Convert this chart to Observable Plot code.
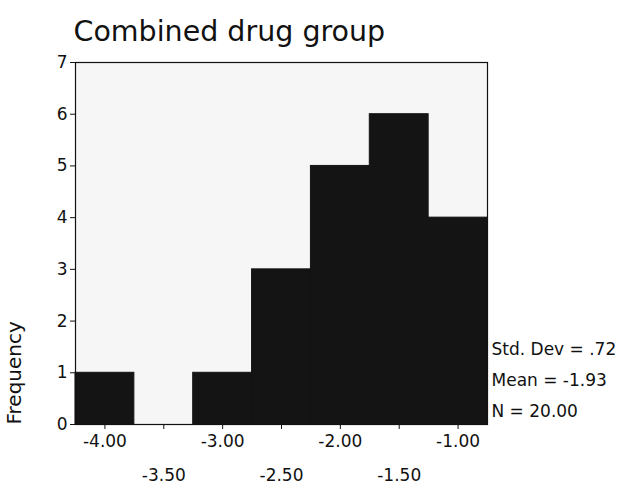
<!DOCTYPE html>
<html>
<head>
<meta charset="utf-8">
<script src="https://cdn.jsdelivr.net/npm/d3@7"></script>
<script src="https://cdn.jsdelivr.net/npm/@observablehq/plot@0.6"></script>
<style>
  html, body { margin: 0; padding: 0; background: #ffffff; }
  #chart svg { display: block; }
</style>
</head>
<body>
<div id="chart"></div>
<script>
const title = "Combined drug group";
const binCenters = [-4.0, -3.5, -3.0, -2.5, -2.0, -1.5, -1.0];
const frequencies = [1, 0, 1, 3, 5, 6, 4];
const binWidth = 0.5;
const upperTicks = [-4.0, -3.0, -2.0, -1.0];
const lowerTicks = [-3.5, -2.5, -1.5];
const yTicks = [0, 1, 2, 3, 4, 5, 6, 7];
const statLabels = ["Std. Dev", "Mean", "N"];
const statValues = [".72", "-1.93", "20.00"];
const yLabel = "Frequency";

const bins = binCenters.map((c, i) => ({
  x1: c - binWidth / 2,
  x2: c + binWidth / 2,
  count: frequencies[i]
}));
const statsText = statLabels.map((l, i) => `${l} = ${statValues[i]}`).join("\n");
const fmt = d => d.toFixed(2);
const font = "DejaVu Sans, Verdana, sans-serif";

const chart = Plot.plot({
  width: 619,
  height: 488,
  marginLeft: 75,
  marginRight: 132,
  marginTop: 62,
  marginBottom: 64,
  style: { fontFamily: font, fontSize: "17px", color: "#111", background: "#ffffff" },
  x: { domain: [-4.25, -0.75] },
  y: { domain: [0, 7] },
  marks: [
    Plot.frame({ fill: "#f6f6f6", stroke: null }),
    Plot.rectY(bins, { x1: "x1", x2: "x2", y: "count", fill: "#141414", stroke: "#141414", strokeWidth: 1, inset: 0 }),
    Plot.frame({ stroke: "#111", strokeWidth: 1.2 }),
    Plot.axisY({ ticks: yTicks, tickFormat: d3.format("d"), tickSize: 5, tickPadding: 3, label: null, fontSize: 17 }),
    Plot.axisX({ ticks: upperTicks, tickFormat: fmt, tickSize: 5, tickPadding: 5, label: null, fontSize: 17 }),
    Plot.axisX({ ticks: lowerTicks, tickFormat: fmt, tickSize: 5, tickPadding: 39, label: null, fontSize: 17 }),
    Plot.text([yLabel], { frameAnchor: "bottom-left", dx: -55, rotate: -90, textAnchor: "start", fontSize: 20 }),
    Plot.text([statsText], { frameAnchor: "bottom-right", dx: 4, dy: -8, textAnchor: "start", lineAnchor: "bottom", lineHeight: 1.82, fontSize: 17 }),
    Plot.text([title], { frameAnchor: "top-left", dx: -2, dy: -22, textAnchor: "start", lineAnchor: "bottom", fontSize: 28.5 })
  ]
});
document.getElementById("chart").appendChild(chart);
</script>
</body>
</html>
